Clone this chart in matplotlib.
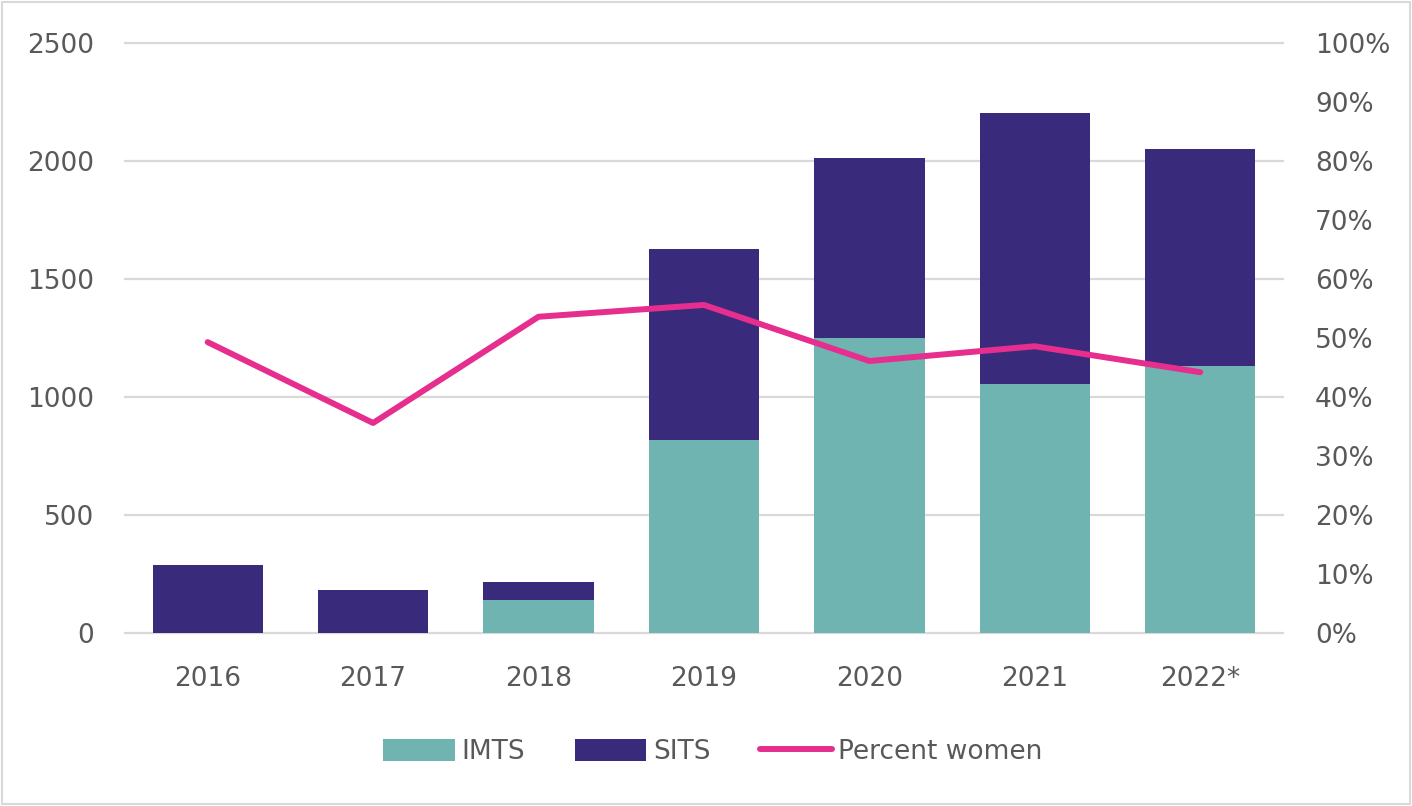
import matplotlib.pyplot as plt
import numpy as np
from matplotlib.patches import Rectangle

years = ['2016', '2017', '2018', '2019', '2020', '2021', '2022*']
imts = [0, 0, 140, 818, 1250, 1055, 1131]
sits_total = [288, 182, 216, 1627, 2013, 2203, 2051]
pct_women = [49.3, 35.6, 53.6, 55.6, 46.1, 48.6, 44.2]

sits = [t - i for t, i in zip(sits_total, imts)]

teal = '#6FB4B0'
purple = '#392A7B'
pink = '#E62E8F'
txt = '#595959'
gridc = '#D9D9D9'

plt.rcParams['font.family'] = ['DejaVu Sans']

fig = plt.figure(figsize=(14.12, 8.06), dpi=100)
ax = fig.add_axes([0.0885, 0.2146, 0.8201, 0.7321])
ax2 = ax.twinx()

x = np.arange(len(years))
ax.bar(x, imts, width=0.667, color=teal, label='IMTS', zorder=3)
ax.bar(x, sits, width=0.667, bottom=imts, color=purple, label='SITS', zorder=3)
ax2.plot(x, pct_women, color=pink, lw=4.3, solid_capstyle='round', label='Percent women', zorder=4)

ax.set_xlim(-0.5, len(years) - 0.5)
ax.set_ylim(0, 2500)
ax.set_yticks(range(0, 2501, 500))
ax2.set_ylim(0, 100)
ax2.set_yticks(range(0, 101, 10))
ax2.set_yticklabels([f'{v}%' for v in range(0, 101, 10)])

# gridlines drawn by hand so the top one is not clipped
for v in range(500, 2501, 500):
    ax.axhline(v, color=gridc, lw=1.6, zorder=0, clip_on=False)
for a in (ax, ax2):
    for s in ['top', 'right', 'left', 'bottom']:
        a.spines[s].set_visible(False)
ax.axhline(0, color=gridc, lw=1.6, zorder=2, clip_on=False)

ax.set_xticks(x)
ax.set_xticklabels(years)
ax.tick_params(axis='x', length=0, pad=24, labelsize=19, labelcolor=txt)
ax.tick_params(axis='y', length=0, pad=22, labelsize=19, labelcolor=txt)
ax2.tick_params(axis='y', length=0, pad=23, labelsize=19, labelcolor=txt)

h1, l1 = ax.get_legend_handles_labels()
h2, l2 = ax2.get_legend_handles_labels()
leg = fig.legend(h1 + h2, l1 + l2, loc='center', bbox_to_anchor=(0.505, 0.067),
                 ncol=3, frameon=False, fontsize=19, labelcolor=txt,
                 handlelength=2.7, handleheight=0.9, handletextpad=0.25, columnspacing=1.9)

fig.patches.append(Rectangle((0.0015, 0.003), 0.997, 0.995, transform=fig.transFigure,
                             fill=False, edgecolor='#D9D9D9', lw=1.5))

fig.savefig('out.png', dpi=100)
